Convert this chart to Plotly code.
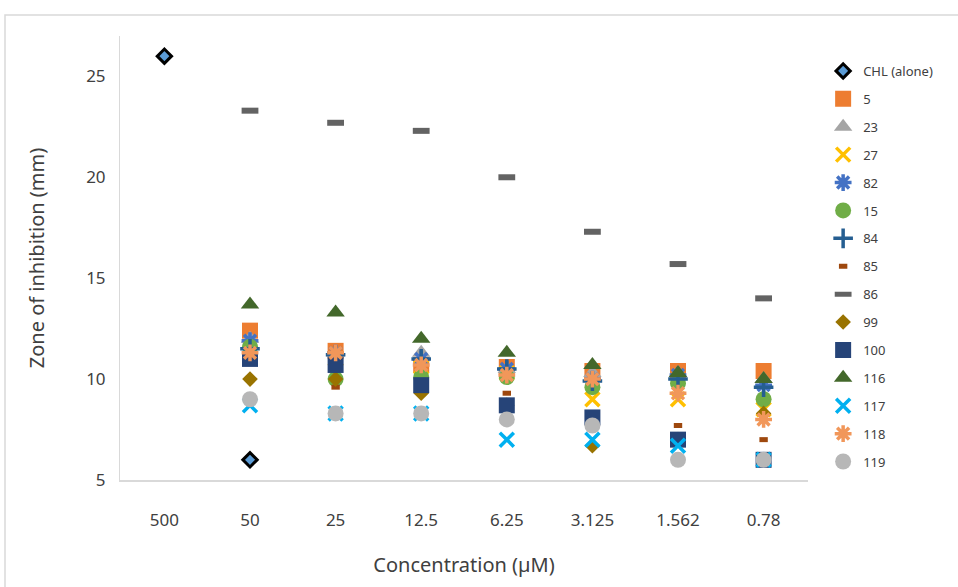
import plotly.graph_objects as go

# Concentrations tested (µM), shown as category labels
concentrations = ["500", "50", "25", "12.5", "6.25", "3.125", "1.562", "0.78"]

# Zone of inhibition (mm) for each compound at each concentration
chl_alone = [26.0, 6.0, None, None, None, None, None, None]
c5 = [None, 12.4, 11.4, 10.7, 10.6, 10.4, 10.4, 10.4]
c23 = [None, 12.0, 11.3, 11.3, 10.5, 10.3, 10.3, 10.0]
c27 = [None, 11.3, 11.0, 10.6, 10.3, 9.0, 9.0, 8.5]
c82 = [None, 11.9, 11.3, 11.0, 10.5, 10.0, 10.2, 9.7]
c15 = [None, 11.6, 10.0, 10.1, 10.1, 9.6, 9.8, 9.0]
c84 = [None, 11.5, 11.2, 11.0, 10.5, 9.9, 10.0, 9.6]
c85 = [None, 11.0, 9.6, 9.6, 9.3, 8.2, 7.7, 7.0]
c86 = [None, 23.3, 22.7, 22.3, 20.0, 17.3, 15.7, 14.0]
c99 = [None, 10.0, 10.0, 9.3, 8.7, 6.7, 7.0, 8.3]
c100 = [None, 11.0, 10.7, 9.7, 8.7, 8.1, 7.0, 6.0]
c116 = [None, 13.7, 13.3, 12.0, 11.3, 10.7, 10.3, 10.0]
c117 = [None, 8.7, 8.3, 8.3, 7.0, 7.0, 6.7, 6.0]
c118 = [None, 11.3, 11.3, 10.7, 10.2, 10.0, 9.3, 8.0]
c119 = [None, 9.0, 8.3, 8.3, 8.0, 7.7, 6.0, 6.0]

series = [
    ("CHL (alone)", chl_alone, dict(symbol="diamond", size=11, color="#5B9BD5", line=dict(color="#000000", width=3))),
    ("5", c5, dict(symbol="square", size=16, color="#ED7D31", line=dict(width=0))),
    ("23", c23, dict(symbol="triangle-up", size=16, color="#A5A5A5", line=dict(width=0))),
    ("27", c27, dict(symbol="x-thin-open", size=14, color="#FFC000", line=dict(color="#FFC000", width=3.5))),
    ("82", c82, dict(symbol="asterisk-open", size=14, color="#4472C4", line=dict(color="#4472C4", width=3.5))),
    ("15", c15, dict(symbol="circle", size=16, color="#70AD47", line=dict(width=0))),
    ("84", c84, dict(symbol="cross-thin-open", size=14, color="#255E91", line=dict(color="#255E91", width=3.5))),
    ("85", c85, dict(symbol="line-ew-open", size=6, color="#9E480E", line=dict(color="#9E480E", width=5))),
    ("86", c86, dict(symbol="line-ew-open", size=12, color="#636363", line=dict(color="#636363", width=6))),
    ("99", c99, dict(symbol="diamond", size=12, color="#997300", line=dict(width=0))),
    ("100", c100, dict(symbol="square", size=16, color="#264478", line=dict(width=0))),
    ("116", c116, dict(symbol="triangle-up", size=16, color="#43682B", line=dict(width=0))),
    ("117", c117, dict(symbol="x-thin-open", size=14, color="#00B0F0", line=dict(color="#00B0F0", width=3.5))),
    ("118", c118, dict(symbol="asterisk-open", size=14, color="#F1975A", line=dict(color="#F1975A", width=3.5))),
    ("119", c119, dict(symbol="circle", size=16, color="#B7B7B7", line=dict(width=0))),
]

fig = go.Figure()
for name, values, marker in series:
    fig.add_trace(go.Scatter(
        x=concentrations, y=values, name=name, mode="markers",
        marker=marker, legendgroup=name, cliponaxis=False,
    ))

text_color = "#404040"
font_family = "Noto Sans, Open Sans, sans-serif"

fig.update_layout(
    width=958, height=587,
    margin=dict(l=120, r=150, t=36, b=107),
    paper_bgcolor="white", plot_bgcolor="white",
    font=dict(family=font_family, color=text_color),
    showlegend=True,
    legend=dict(
        x=1.022, xanchor="left", y=0.955, yanchor="top",
        font=dict(size=13, color=text_color),
        tracegroupgap=8, bgcolor="rgba(0,0,0,0)",
    ),
    xaxis=dict(
        type="category", categoryorder="array", categoryarray=concentrations,
        showline=True, linecolor="#D9D9D9", linewidth=1.5,
        showgrid=False, zeroline=False, ticks="",
        tickfont=dict(size=17, color=text_color),
        ticklabelstandoff=24,
        title=dict(text="Concentration (µM)", font=dict(size=20, color=text_color), standoff=28),
    ),
    yaxis=dict(
        range=[5, 27], tick0=5, dtick=5,
        showline=True, linecolor="#D9D9D9", linewidth=1,
        showgrid=False, zeroline=False, ticks="",
        tickfont=dict(size=17, color=text_color),
        ticklabelstandoff=10,
        title=dict(text="Zone of inhibition (mm)", font=dict(size=20, color=text_color), standoff=36),
    ),
)

# Outer chart frame
fig.add_shape(type="rect", xref="paper", yref="paper",
              x0=(5 - 120) / 688, x1=(1000 - 120) / 688,
              y0=-0.4, y1=(480 - 15) / 444,
              line=dict(color="#D9D9D9", width=1.5), layer="below")

fig.write_html("out.html")
